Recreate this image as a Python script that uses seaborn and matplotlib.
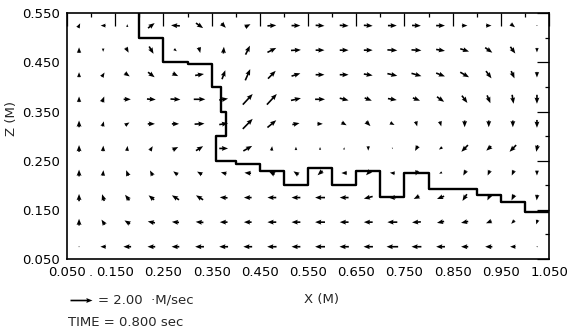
import numpy as np
import matplotlib
matplotlib.use("Agg")
import matplotlib.pyplot as plt
import seaborn as sns

# grid of cell centres (M)
x_cells = [0.075, 0.125, 0.175, 0.225, 0.275, 0.325, 0.375, 0.425, 0.475, 0.525,
           0.575, 0.625, 0.675, 0.725, 0.775, 0.825, 0.875, 0.925, 0.975, 1.025]
z_cells = [0.075, 0.125, 0.175, 0.225, 0.275, 0.325, 0.375, 0.425, 0.475, 0.525]

# horizontal velocity U (M/sec), one list per row, bottom row first
u_r0 = [-0.05, -0.5, -0.7, -0.7, -0.7, -0.8, -0.8, -0.8, -0.85, -0.8, -0.9, -0.85, -0.85, -1.05, -0.9, -0.8, -0.65, -0.65, -0.5, -0.13]
u_r1 = [0, -0.3, -0.5, -0.65, -0.65, -0.7, -0.7, -0.7, -0.8, -0.8, -0.9, -0.8, -0.8, -0.9, -0.8, -0.65, -0.65, -0.5, -0.3, -0.13]
u_r2 = [0, -0.2, -0.4, -0.5, -0.65, -0.65, -0.7, -0.7, -0.8, -0.8, -0.9, -0.8, -0.8, -0.65, -0.5, -0.65, -0.4, -0.25, -0.25, -0.05]
u_r3 = [0, 0.05, -0.2, -0.25, -0.4, -0.45, -0.5, -0.6, -0.5, -0.45, -0.45, -0.5, -0.4, -0.45, -0.13, -0.25, -0.25, -0.2, -0.2, 0]
u_r4 = [0, 0.03, 0.05, 0.25, 0.5, 0.65, 0.8, 0.8, 0.05, 0, 0, 0.05, 0, 0, -0.25, -0.3, -0.6, -0.45, -0.6, -0.13]
u_r5 = [0, 0.13, 0.4, 0.65, 0.65, 0.9, 0.8, 0.9, 0.8, 0.65, 0.5, 0.45, 0.4, 0.4, 0.13, 0.13, 0, 0, 0, 0]
u_r6 = [0, 0.2, 0.65, 0.8, 0.9, 1.05, 0.8, 0.9, 0.9, 0.9, 0.9, 0.8, 0.65, 0.8, 0.65, 0.65, 0.5, 0.3, 0.13, 0]
u_r7 = [0, 0.25, 0.45, 0.6, 0.5, 0.8, 0.3, 0.45, 0.7, 0.8, 0.8, 0.8, 0.8, 0.9, 0.9, 0.8, 0.8, 0.5, 0.3, 0]
u_r8 = [0, 0, 0.25, 0.4, 0.25, 0.13, 0.05, 0.4, 0.8, 0.9, 0.8, 0.8, 0.8, 0.9, 0.9, 0.8, 0.8, 0.65, 0.45, 0]
u_r9 = [0.2, -0.45, 0, 0.6, -0.8, 0.65, 0.4, 0.5, 0.8, 0.8, 0.8, 0.8, 0.8, 0.8, 0.8, 0.8, 0.5, 0.5, 0.4, 0.05]

# vertical velocity W (M/sec)
w_r0 = [0.05, 0, 0, 0, 0, 0, 0, 0, 0, 0, 0, 0, 0, 0, 0, 0, 0, 0, 0, 0]
w_r1 = [0.6, 0.45, 0.3, 0.13, 0.05, 0.05, 0, 0, 0, 0, 0, 0, 0, 0, -0.05, -0.13, -0.13, -0.2, -0.3, -0.4]
w_r2 = [0.65, 0.6, 0.5, 0.4, 0.4, 0.4, 0.05, 0, 0, 0, 0, 0, -0.2, 0, -0.25, -0.25, -0.6, -0.5, -0.5, -0.5]
w_r3 = [0.6, 0.5, 0.5, 0.45, 0.3, 0.25, 0.13, 0.05, 0.25, 0.3, -0.4, 0, -0.4, 0.05, -0.45, -0.13, -0.45, -0.45, -0.45, -0.45]
w_r4 = [0.6, 0.5, 0.45, 0.4, 0.25, 0.4, 0, 0.45, 0.4, 0.3, 0.25, 0.2, -0.4, -0.13, -0.45, -0.2, -0.6, -0.4, -0.6, -0.6]
w_r5 = [0.6, 0.45, 0.25, 0, 0, 0.05, 0.13, 0.9, 0.65, 0.13, 0, -0.25, -0.4, -0.2, -0.45, -0.45, -0.6, -0.6, -0.6, -0.7]
w_r6 = [0.5, 0.5, 0, -0.05, -0.05, 0, 0.13, 0.95, 0.95, 0.2, 0, -0.2, -0.25, -0.13, -0.25, -0.45, -0.65, -0.7, -0.8, -0.8]
w_r7 = [0.45, 0.4, -0.3, -0.45, -0.25, 0.13, 0.8, 1.0, 0.7, 0.25, 0, 0, -0.13, -0.2, -0.25, -0.3, -0.45, -0.65, -0.65, -0.5]
w_r8 = [0.5, -0.3, -0.45, -0.65, -0.2, -0.5, 0.6, 0.8, 0.4, 0.05, 0, 0, 0, -0.05, -0.05, -0.13, -0.25, -0.45, -0.6, -0.4]
w_r9 = [0.4, 0, 0.25, 0.45, 0.05, -0.45, -0.4, 0.25, 0.05, 0, -0.05, -0.05, -0.05, 0, -0.03, 0, 0, 0, -0.3, -0.05]

# free-surface outline (M)
surf_x = [0.20, 0.20, 0.25, 0.25, 0.30, 0.30, 0.35, 0.35, 0.37, 0.37, 0.38, 0.38, 0.36, 0.36,
          0.40, 0.40, 0.45, 0.45, 0.50, 0.50, 0.55, 0.55, 0.60, 0.60, 0.65, 0.65, 0.70, 0.70,
          0.75, 0.75, 0.80, 0.80, 0.90, 0.90, 0.95, 0.95, 1.00, 1.00, 1.05]
surf_z = [0.55, 0.50, 0.50, 0.45, 0.45, 0.447, 0.447, 0.40, 0.40, 0.35, 0.35, 0.30, 0.30, 0.25,
          0.25, 0.243, 0.243, 0.23, 0.23, 0.20, 0.20, 0.236, 0.236, 0.20, 0.20, 0.23, 0.23, 0.176,
          0.176, 0.224, 0.224, 0.192, 0.192, 0.18, 0.18, 0.165, 0.165, 0.145, 0.145]

x_ticklabels = ["0.050", "0.150", "0.250", "0.350", "0.450", "0.550", "0.650", "0.750", "0.850", "0.950", "1.050"]
z_ticklabels = ["0.050", "0.150", "0.250", "0.350", "0.450", "0.550"]

ref_speed = 2.00

sns.set_theme(style="white")
plt.rcParams["font.family"] = ["DejaVu Sans"]

FS = 9.5
W_PX, H_PX = 569, 332
fig = plt.figure(figsize=(W_PX / 100, H_PX / 100), dpi=100)
ax = fig.add_axes([67 / W_PX, 1 - 259 / H_PX, 482 / W_PX, 245.7 / H_PX])

U = np.array([u_r0, u_r1, u_r2, u_r3, u_r4, u_r5, u_r6, u_r7, u_r8, u_r9])
Wv = np.array([w_r0, w_r1, w_r2, w_r3, w_r4, w_r5, w_r6, w_r7, w_r8, w_r9])
XX, ZZ = np.meshgrid(x_cells, z_cells)

# 2.00 M/sec -> about 22 px -> 22/482 M of x
scale = ref_speed / (22 / 482)
Q = ax.quiver(XX, ZZ, U, Wv, angles="xy", scale_units="xy", scale=scale,
              pivot="middle", color="black", width=0.0034, headwidth=3.0,
              headlength=3.8, headaxislength=3.4, minlength=0.6)

sns.lineplot(x=surf_x, y=surf_z, sort=False, estimator=None, color="black",
             linewidth=1.7, ax=ax, legend=False)

ax.set_xlim(0.05, 1.05)
ax.set_ylim(0.05, 0.55)

xt = [0.05 + 0.1 * i for i in range(11)]
zt = [0.05 + 0.1 * i for i in range(6)]
ax.set_xticks(xt)
ax.set_xticklabels(x_ticklabels)
ax.set_yticks(zt)
ax.set_yticklabels(z_ticklabels)
ax.set_xticks([0.10 + 0.1 * i for i in range(10)], minor=True)
ax.set_yticks([0.10 + 0.1 * i for i in range(5)], minor=True)
ax.tick_params(which="major", direction="in", length=9, width=0.9, color="black",
               top=True, right=True, labelsize=FS, pad=5, labelcolor="black")
ax.tick_params(which="minor", direction="in", length=3, width=0.9, color="black",
               top=True, right=True)
for s in ax.spines.values():
    s.set_visible(True)
    s.set_color("black")
    s.set_linewidth(1.2)
ax.grid(False)
ax.text(0.100, -0.03, ".", transform=ax.get_xaxis_transform(), ha="center", va="top",
        fontsize=FS)

fig.text(322 / W_PX, 1 - 300 / H_PX, "X (M)", ha="center", va="center", fontsize=FS)
fig.text(12 / W_PX, 1 - 118 / H_PX, "Z (M)", ha="center", va="center", rotation=90, fontsize=FS)

ax.quiverkey(Q, 92 / W_PX, 1 - 300 / H_PX, ref_speed, "= 2.00  ·M/sec", labelpos="E",
             coordinates="figure", labelsep=0.06, fontproperties={"size": FS})
fig.text(68 / W_PX, 1 - 322 / H_PX, "TIME = 0.800 sec", ha="left", va="center", fontsize=FS)

fig.savefig("out.png", dpi=100, facecolor="white")
